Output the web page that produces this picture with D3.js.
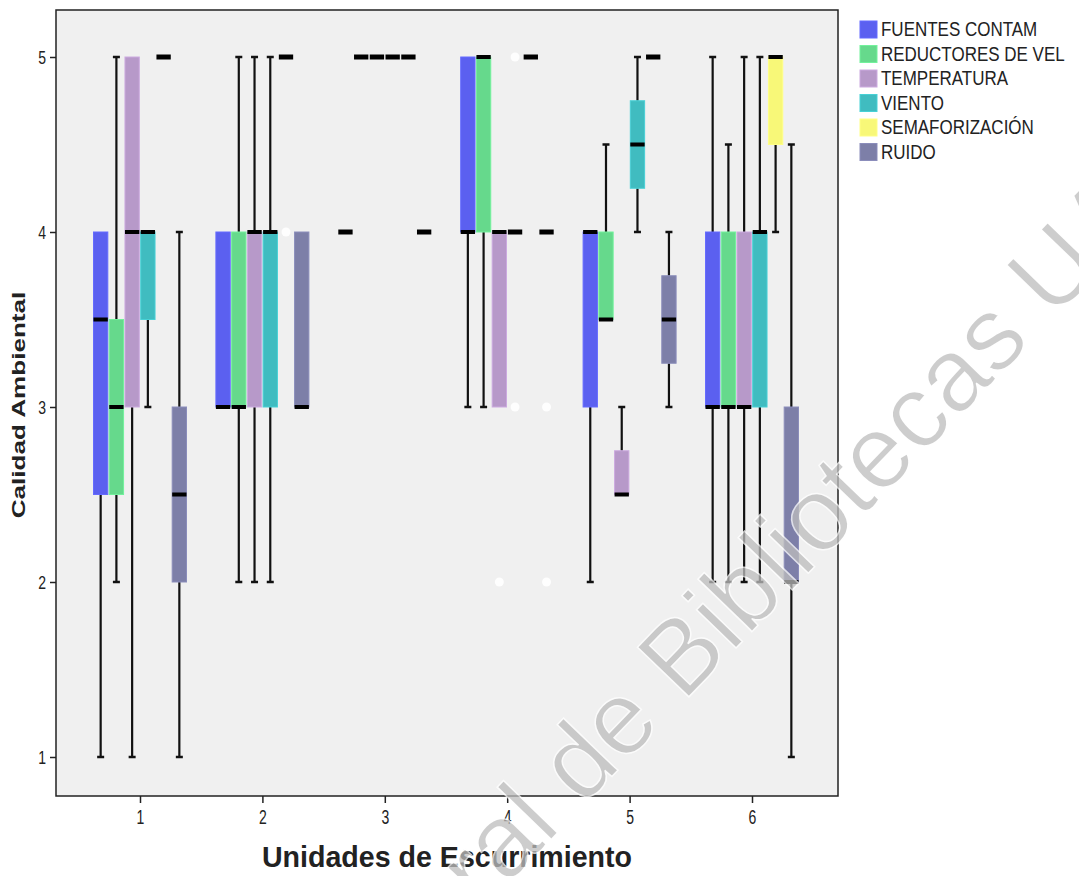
<!DOCTYPE html>
<html>
<head>
<meta charset="utf-8">
<script src="https://cdn.jsdelivr.net/npm/d3@7"></script>
<style>
  html, body { margin: 0; padding: 0; background: #ffffff; }
  svg { display: block; }
  text { font-family: "Liberation Sans", Arial, sans-serif; }
</style>
</head>
<body>
<svg id="chart" width="1079" height="876"></svg>
<script>
// ---- data ----
const categories = ["1", "2", "3", "4", "5", "6"];
const seriesNames = ["FUENTES CONTAM", "REDUCTORES DE VEL", "TEMPERATURA", "VIENTO", "SEMAFORIZACIÓN", "RUIDO"];
const yTicks = [1, 2, 3, 4, 5];

// per series, per category: [whisker low, Q1, median, Q3, whisker high]
const fuentes     = [[1, 2.5, 3.5, 4, 4], [3, 3, 3, 4, 4], [4, 4, 4, 4, 4], [3, 4, 4, 5, 5], [2, 3, 4, 4, 4], [2, 3, 3, 4, 5]];
const reductores  = [[2, 2.5, 3, 3.5, 5], [2, 3, 3, 4, 5], [5, 5, 5, 5, 5], [3, 4, 5, 5, 5], [3.5, 3.5, 3.5, 4, 4.5], [2, 3, 3, 4, 4.5]];
const temperatura = [[1, 3, 4, 5, 5], [2, 3, 4, 4, 5], [5, 5, 5, 5, 5], [3, 3, 4, 4, 4], [2.5, 2.5, 2.5, 2.75, 3], [2, 3, 3, 4, 5]];
const viento      = [[3, 3.5, 4, 4, 4], [2, 3, 4, 4, 5], [5, 5, 5, 5, 5], [4, 4, 4, 4, 4], [4, 4.25, 4.5, 4.75, 5], [2, 3, 4, 4, 5]];
const semaforo    = [[5, 5, 5, 5, 5], [5, 5, 5, 5, 5], [5, 5, 5, 5, 5], [5, 5, 5, 5, 5], [5, 5, 5, 5, 5], [4, 4.5, 5, 5, 5]];
const ruido       = [[1, 2, 2.5, 3, 4], [3, 3, 3, 4, 4], [4, 4, 4, 4, 4], [4, 4, 4, 4, 4], [3, 3.25, 3.5, 3.75, 4], [1, 2, 2, 3, 4.5]];
const seriesStats = [fuentes, reductores, temperatura, viento, semaforo, ruido];

// outliers: [series index, category, value]
const outliers = [[4, "2", 4], [2, "4", 2], [3, "4", 5], [3, "4", 3], [5, "4", 3], [5, "4", 2]];

const colors = ["#5b60f0", "#66d98c", "#b799c9", "#40bcc0", "#f8f878", "#7d7fa8"];

// ---- layout ----
const svg = d3.select("#chart");
const frame = { left: 56, right: 838, top: 10, bottom: 796 };

const y = d3.scaleLinear().domain([1, 5]).range([757, 57]);
const x = d3.scalePoint().domain(categories).range([140, 752]);
const inner = d3.scaleBand().domain(seriesNames).range([-46.5, 46.5]).paddingInner(0.09);
const bw = inner.bandwidth();

// plot background
svg.append("rect")
  .attr("x", frame.left).attr("y", frame.top)
  .attr("width", frame.right - frame.left).attr("height", frame.bottom - frame.top)
  .attr("fill", "#f0f0f0").attr("stroke", "none");

const plot = svg.append("g");

seriesNames.forEach((name, si) => {
  const g = plot.append("g");
  categories.forEach((cat, ci) => {
    const [lo, q1, med, q3, hi] = seriesStats[si][ci];
    const x0 = x(cat) + inner(name);
    const cx = x0 + bw / 2;
    if (lo === hi) {
      g.append("rect").attr("x", x0).attr("y", y(med) - 2.5)
        .attr("width", bw).attr("height", 5).attr("fill", "#000");
      return;
    }
    if (hi > q3) {
      g.append("line").attr("x1", cx).attr("x2", cx).attr("y1", y(hi)).attr("y2", y(q3))
        .attr("stroke", "#111").attr("stroke-width", 2.2);
      g.append("line").attr("x1", cx - 3.5).attr("x2", cx + 3.5).attr("y1", y(hi)).attr("y2", y(hi))
        .attr("stroke", "#111").attr("stroke-width", 2.5);
    }
    if (lo < q1) {
      g.append("line").attr("x1", cx).attr("x2", cx).attr("y1", y(q1)).attr("y2", y(lo))
        .attr("stroke", "#111").attr("stroke-width", 2.2);
      g.append("line").attr("x1", cx - 3.5).attr("x2", cx + 3.5).attr("y1", y(lo)).attr("y2", y(lo))
        .attr("stroke", "#111").attr("stroke-width", 2.5);
    }
    if (q3 > q1) {
      g.append("rect").attr("x", x0).attr("y", y(q3))
        .attr("width", bw).attr("height", y(q1) - y(q3))
        .attr("fill", colors[si]).attr("stroke", d3.color(colors[si]).brighter(0.3)).attr("stroke-width", 1);
    }
    g.append("rect").attr("x", x0).attr("y", y(med) - 2)
      .attr("width", bw).attr("height", 4).attr("fill", "#000");
  });
});

// outliers (white markers)
outliers.forEach(([si, cat, v]) => {
  const cx = x(cat) + inner(seriesNames[si]) + bw / 2;
  plot.append("circle").attr("cx", cx).attr("cy", y(v)).attr("r", 4.5)
    .attr("fill", "#ffffff").attr("stroke", "none").attr("opacity", 0.9);
});

// frame border
svg.append("rect")
  .attr("x", frame.left).attr("y", frame.top)
  .attr("width", frame.right - frame.left).attr("height", frame.bottom - frame.top)
  .attr("fill", "none").attr("stroke", "#222").attr("stroke-width", 1.5);

// axes
const yAxis = svg.append("g").attr("transform", `translate(${frame.left},0)`)
  .call(d3.axisLeft(y).tickValues(yTicks).tickSize(6).tickPadding(4).tickFormat(d3.format("d")));
const xAxis = svg.append("g").attr("transform", `translate(0,${frame.bottom})`)
  .call(d3.axisBottom(x).tickSize(7).tickPadding(8));
[yAxis, xAxis].forEach(a => {
  a.select(".domain").remove();
  a.selectAll(".tick line").attr("stroke", "#222").attr("stroke-width", 1.5);
  a.selectAll(".tick text").attr("fill", "#222").style("font-size", "14px")
    .style("font-family", "'Liberation Sans', Arial, sans-serif");
});
xAxis.selectAll(".tick text").attr("transform", "scale(1,1.4)").attr("y", 12).attr("dy", "0.55em");
yAxis.selectAll(".tick text").attr("transform", "scale(1,1.35)").attr("y", 0).attr("dy", "0.33em");

// axis titles
svg.append("text")
  .attr("transform", "translate(25,405) rotate(-90) scale(1.45,1.05)")
  .attr("text-anchor", "middle")
  .style("font-size", "18px").style("font-weight", "bold").attr("fill", "#222")
  .text("Calidad Ambiental");
svg.append("text")
  .attr("transform", "translate(447,867) scale(1.3,1.3)")
  .attr("text-anchor", "middle")
  .style("font-size", "22px").style("font-weight", "bold").attr("fill", "#222")
  .text("Unidades de Escurrimiento");

// legend
const legend = svg.append("g");
seriesNames.forEach((name, i) => {
  const ly = 21 + i * 24.5;
  legend.append("rect").attr("x", 860).attr("y", ly).attr("width", 17).attr("height", 17)
    .attr("fill", colors[i]).attr("stroke", d3.color(colors[i]).brighter(0.3));
  legend.append("text").attr("transform", `translate(881,${ly + 15}) scale(1,1.15)`)
    .style("font-size", "17px").attr("fill", "#222").text(name);
});

// watermark
const fullStr = "Dirección General de Bibliotecas UAQ";
const wm = svg.append("g").attr("transform", "translate(683,703) rotate(-46)");
const wmText = wm.append("text")
  .style("font-size", "104px").attr("fill", "#bdbdbd").attr("opacity", 0.75)
  .attr("stroke", "#ffffff").attr("stroke-width", 1.5)
  .text(fullStr);
const offset = wmText.node().getSubStringLength(0, fullStr.indexOf("Bibliotecas"));
wmText.attr("x", -offset);
</script>
</body>
</html>
